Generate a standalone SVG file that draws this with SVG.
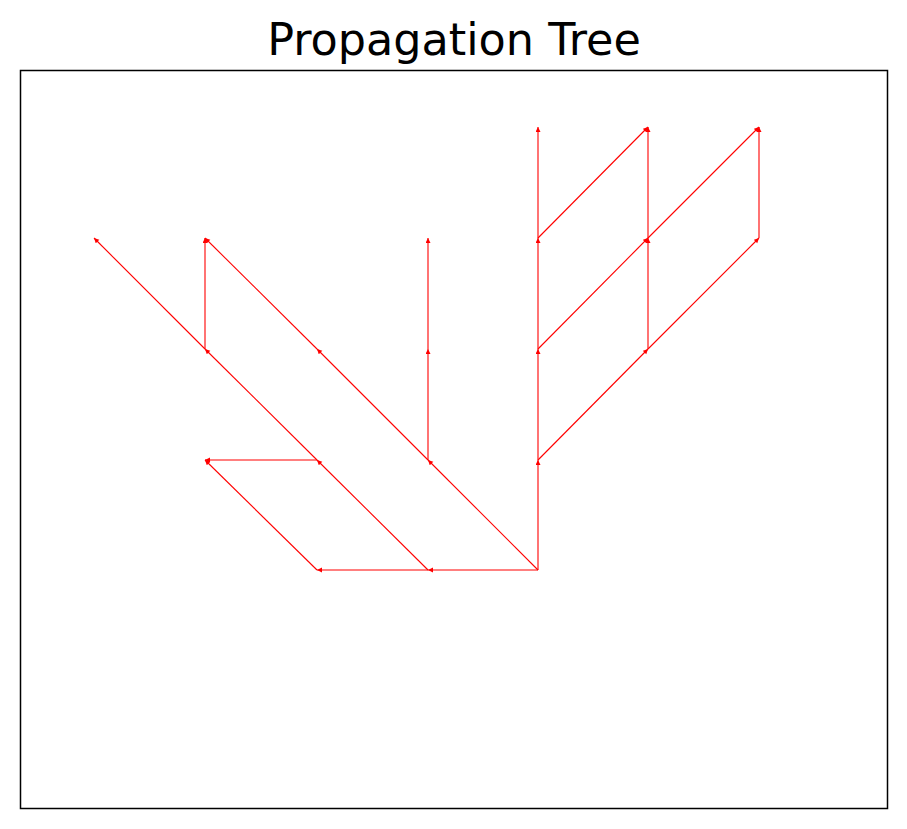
<svg xmlns="http://www.w3.org/2000/svg" width="907" height="829" viewBox="0 0 907 829">
<style>
.e{stroke:#ff0000;stroke-width:1.1;fill:none;marker-end:url(#ah)}
.t{font-family:"DejaVu Sans",sans-serif;font-size:44.5px;fill:#000;text-anchor:middle}
</style>
<defs>
<marker id="ah" markerUnits="userSpaceOnUse" markerWidth="6" markerHeight="6" refX="5" refY="2.5" orient="auto">
<path d="M0,0 L5,2.5 L0,5 Z" fill="#ff0000"/>
</marker>
</defs>
<rect width="907" height="829" fill="#fff"/>
<text class="t" x="454" y="55">Propagation Tree</text>
<rect id="axes" x="20.5" y="70.5" width="867" height="738" fill="none" stroke="#000" stroke-width="1.5"/>
<g id="connectors">
<line class="e" x1="538" y1="570" x2="428" y2="570"/>
<line class="e" x1="428" y1="570" x2="317" y2="570"/>
<line class="e" x1="317" y1="570" x2="205" y2="460"/>
<line class="e" x1="317" y1="460" x2="205" y2="460"/>
<line class="e" x1="428" y1="570" x2="317" y2="460"/>
<line class="e" x1="317" y1="460" x2="205" y2="349"/>
<line class="e" x1="205" y1="349" x2="94" y2="238"/>
<line class="e" x1="205" y1="349" x2="205" y2="238"/>
<line class="e" x1="538" y1="570" x2="428" y2="460"/>
<line class="e" x1="428" y1="460" x2="317" y2="349"/>
<line class="e" x1="317" y1="349" x2="205" y2="238"/>
<line class="e" x1="428" y1="460" x2="428" y2="349"/>
<line class="e" x1="428" y1="349" x2="428" y2="238"/>
<line class="e" x1="538" y1="570" x2="538" y2="460"/>
<line class="e" x1="538" y1="460" x2="538" y2="349"/>
<line class="e" x1="538" y1="349" x2="538" y2="238"/>
<line class="e" x1="538" y1="238" x2="538" y2="127"/>
<line class="e" x1="538" y1="460" x2="648" y2="349"/>
<line class="e" x1="648" y1="349" x2="759" y2="238"/>
<line class="e" x1="648" y1="349" x2="648" y2="238"/>
<line class="e" x1="648" y1="238" x2="648" y2="127"/>
<line class="e" x1="538" y1="349" x2="648" y2="238"/>
<line class="e" x1="648" y1="238" x2="759" y2="127"/>
<line class="e" x1="538" y1="238" x2="648" y2="127"/>
<line class="e" x1="759" y1="238" x2="759" y2="127"/>
</g>
</svg>
